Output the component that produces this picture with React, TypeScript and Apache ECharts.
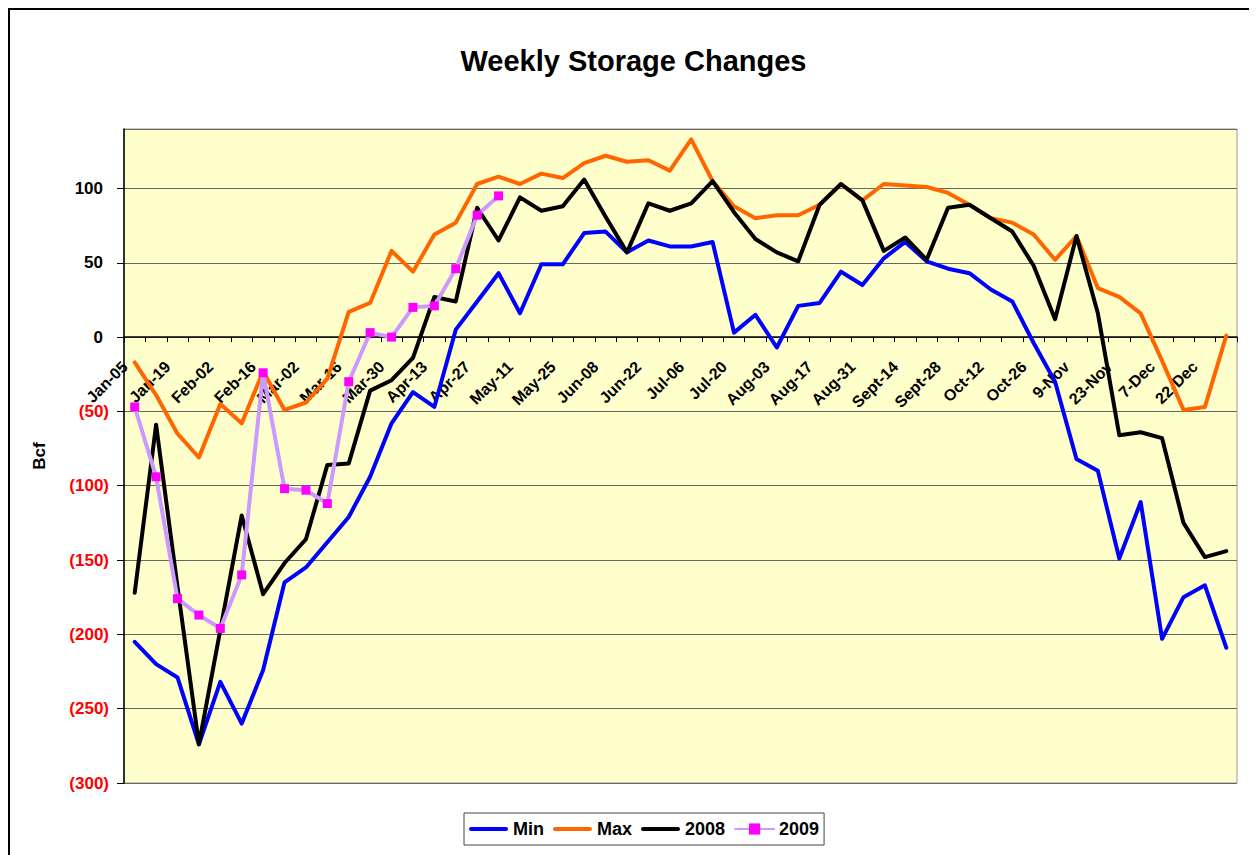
import React, { useEffect, useRef } from "react";
import * as echarts from "echarts";

const categories = [
  "Jan-05", "Jan-12", "Jan-19", "Jan-26", "Feb-02", "Feb-09", "Feb-16", "Feb-23",
  "Mar-02", "Mar-09", "Mar-16", "Mar-23", "Mar-30", "Apr-06", "Apr-13", "Apr-20",
  "Apr-27", "May-04", "May-11", "May-18", "May-25", "Jun-01", "Jun-08", "Jun-15",
  "Jun-22", "Jun-29", "Jul-06", "Jul-13", "Jul-20", "Jul-27", "Aug-03", "Aug-10",
  "Aug-17", "Aug-24", "Aug-31", "Sept-07", "Sept-14", "Sept-21", "Sept-28", "Oct-05",
  "Oct-12", "Oct-19", "Oct-26", "2-Nov", "9-Nov", "16-Nov", "23-Nov", "30-Nov",
  "7-Dec", "14-Dec", "22-Dec", "29-Dec",
];

const minValues = [
  -205, -220, -229, -274, -232, -260, -224, -165, -155, -138, -121, -94, -58, -37, -47, 5,
  24, 43, 16, 49, 49, 70, 71, 57, 65, 61, 61, 64, 3, 15, -7, 21,
  23, 44, 35, 53, 64, 51, 46, 43, 32, 24, -4, -30, -82, -90, -149, -111,
  -203, -175, -167, -209,
];

const maxValues = [
  -17, -39, -65, -81, -45, -58, -23, -49, -44, -28, 17, 23, 58, 44, 69, 77,
  103, 108, 103, 110, 107, 117, 122, 118, 119, 112, 133, 105, 88, 80, 82, 82,
  89, 103, 92, 103, 102, 101, 97, 89, 80, 77, 69, 52, 68, 33, 27, 16,
  -16, -49, -47, 1,
];

const values2008 = [
  -172, -59, -168, -274, -197, -120, -173, -152, -136, -86, -85, -36, -29, -14, 27, 24,
  87, 65, 94, 85, 88, 106, 81, 57, 90, 85, 90, 105, 84, 66, 57, 51,
  89, 103, 92, 58, 67, 52, 87, 89, 80, 71, 48, 12, 68, 16, -66, -64,
  -68, -125, -148, -144,
];

const values2009 = [
  -47, -94, -176, -187, -196, -160, -24, -102, -103, -112, -30, 3, 0, 20, 21, 46,
  82, 95,
];

const FONT = "'Liberation Sans', Arial, Helvetica, sans-serif";

const Y_MIN = -300;
const Y_MAX = 140;
const GRID_TOP = 119;
const GRID_BOTTOM = 72;
const CHART_H = 845;

const LINE_ICON = "path://M2,0 L37,0 A2,2 0 0 1 37,4 L2,4 A2,2 0 0 1 2,0 Z";

export default function App() {
  const ref = useRef<HTMLDivElement>(null);

  useEffect(() => {
    if (!ref.current) return;
    const chart = echarts.init(ref.current, null, { renderer: "svg" });
    const lineStyle = (color: string) => ({
      color,
      width: 4,
      cap: "round",
      join: "round",
    });
    const plotH = CHART_H - GRID_TOP - GRID_BOTTOM;
    const zeroFromBottom = (plotH * (0 - Y_MIN)) / (Y_MAX - Y_MIN);
    chart.setOption({
      animation: false,
      backgroundColor: "#ffffff",
      textStyle: { fontFamily: FONT },
      title: {
        text: "Weekly Storage Changes",
        left: "center",
        top: 31,
        textStyle: { fontFamily: FONT, fontWeight: "bold", fontSize: 29, color: "#000" },
      },
      legend: {
        left: 454,
        top: 803,
        orient: "horizontal",
        padding: [7, 5, 7, 5],
        itemGap: 9,
        itemWidth: 39,
        itemHeight: 14,
        borderColor: "#444",
        borderWidth: 1,
        borderRadius: 0,
        backgroundColor: "#fff",
        textStyle: { fontFamily: FONT, fontWeight: "bold", fontSize: 18, color: "#000" },
        data: [
          { name: "Min", icon: LINE_ICON },
          { name: "Max", icon: LINE_ICON },
          { name: "2008", icon: LINE_ICON },
          { name: "2009" },
        ],
      },
      grid: {
        left: 114,
        top: GRID_TOP,
        right: 20,
        bottom: GRID_BOTTOM,
        show: true,
        backgroundColor: "#FFFFCC",
        borderColor: "#999",
        borderWidth: 1,
      },
      xAxis: {
        type: "category",
        data: categories,
        boundaryGap: true,
        position: "bottom",
        offset: -zeroFromBottom,
        axisLine: { show: true, onZero: false, lineStyle: { color: "#000", width: 1.5 } },
        axisTick: { show: true, interval: 0, length: 5, lineStyle: { color: "#000", width: 1 } },
        axisLabel: {
          interval: 1,
          rotate: 45,
          margin: 17,
          padding: [0, 14, 0, 0],
          fontFamily: FONT,
          fontWeight: "bold",
          fontSize: 16,
          color: "#000",
        },
        splitLine: { show: false },
      },
      yAxis: {
        type: "value",
        min: Y_MIN,
        max: Y_MAX,
        interval: 50,
        name: "Bcf",
        nameLocation: "middle",
        nameGap: 76,
        nameTextStyle: { fontFamily: FONT, fontWeight: "bold", fontSize: 17, color: "#000" },
        axisLine: { show: true, lineStyle: { color: "#000", width: 1.5 } },
        axisTick: { show: true, length: 7, lineStyle: { color: "#000" } },
        axisLabel: {
          showMaxLabel: false,
          margin: 15,
          formatter: (v: number) => (v < 0 ? `{n|(${-v})}` : `{p|${v}}`),
          rich: {
            n: { color: "#FF0000", fontFamily: FONT, fontWeight: "bold", fontSize: 17 },
            p: { color: "#000", fontFamily: FONT, fontWeight: "bold", fontSize: 17, padding: [0, 6, 0, 0] },
          },
        },
        splitLine: { show: true, lineStyle: { color: "#666", width: 1 } },
      },
      series: [
        {
          name: "Min",
          type: "line",
          data: minValues,
          symbol: "none",
          lineStyle: lineStyle("#0000FF"),
          itemStyle: { color: "#0000FF" },
        },
        {
          name: "Max",
          type: "line",
          data: maxValues,
          symbol: "none",
          lineStyle: lineStyle("#FF6600"),
          itemStyle: { color: "#FF6600" },
        },
        {
          name: "2008",
          type: "line",
          data: values2008,
          symbol: "none",
          lineStyle: lineStyle("#000000"),
          itemStyle: { color: "#000000" },
        },
        {
          name: "2009",
          type: "line",
          data: values2009,
          symbol: "rect",
          symbolSize: 9,
          showAllSymbol: true,
          lineStyle: lineStyle("#CC99FF"),
          itemStyle: { color: "#FF00FF", borderWidth: 0 },
        },
      ],
    });
    return () => chart.dispose();
  }, []);

  return (
    <div
      style={{
        width: 1249,
        height: 847,
        borderLeft: "2px solid #000",
        borderTop: "2px solid #000",
        boxSizing: "border-box",
        overflow: "hidden",
      }}
    >
      <div ref={ref} style={{ width: 1247, height: 845 }} />
    </div>
  );
}
